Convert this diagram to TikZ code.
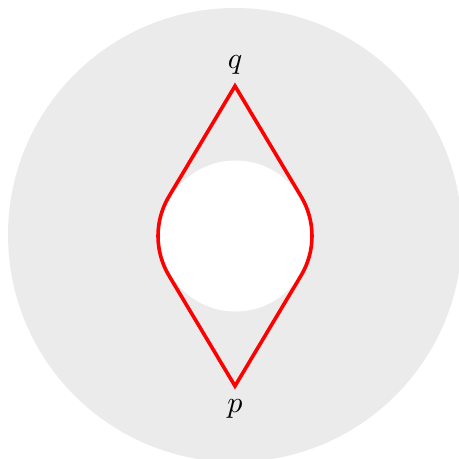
\documentclass[tikz,border=0pt]{standalone}
\usetikzlibrary{calc}
\definecolor{ringgray}{RGB}{235,235,235}
\tikzset{redpath/.style={draw=red,line width=1.2pt},lbl/.style={anchor=base,inner sep=0pt}}
\begin{document}
\begin{tikzpicture}[x=0.33333pt,y=0.33333pt]
\useasboundingbox (0,0) rectangle (459,459);
\clip (0,0) rectangle (459,459);
\coordinate (C) at (235,223);
\fill[ringgray] (235,224) circle[radius=227];
\fill[white] (235.5,223) circle[radius=75.5];
\coordinate (q) at (235,373);
\coordinate (p) at (235,73);
\draw[redpath] (q) -- ($(C)+(149.11:77)$) arc[start angle=149.11,end angle=210.89,radius=77] -- (p) -- ($(C)+(-30.89:77)$) arc[start angle=-30.89,end angle=30.89,radius=77] -- cycle;
\node[lbl] (ql) at (235,391) {$q$};
\node[lbl] (pl) at (235,47) {$p$};
\end{tikzpicture}
\end{document}
